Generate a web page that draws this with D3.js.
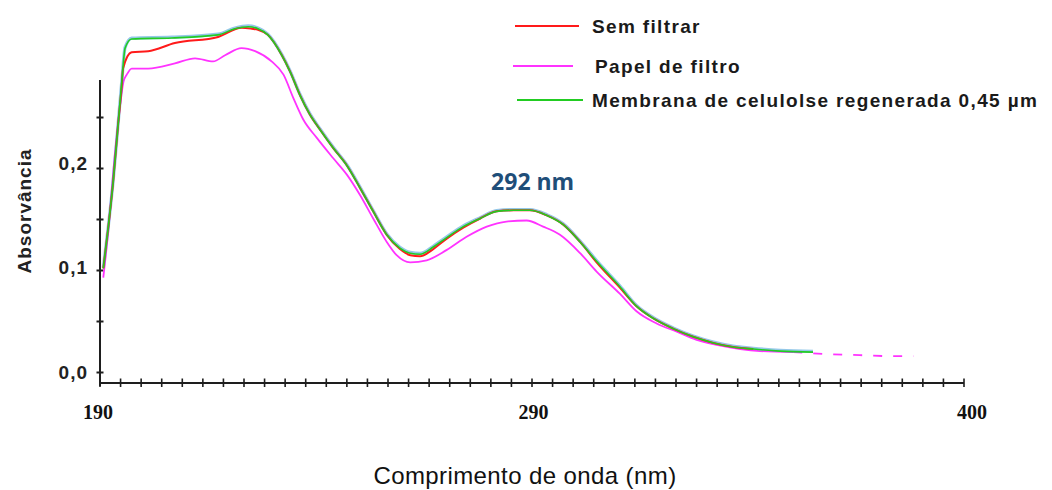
<!DOCTYPE html>
<html>
<head>
<meta charset="utf-8">
<script src="https://cdn.jsdelivr.net/npm/d3@7/dist/d3.min.js"></script>
<style>
  html, body { margin: 0; padding: 0; background: #fff; }
  svg { display: block; }
</style>
</head>
<body>
<svg id="chart" width="1052" height="490"></svg>
<script>
// UV-Vis absorbance spectra (nm vs absorbance)
const semFiltrarNm  = [190.8, 192.0, 193.2, 194.4, 195.3, 195.6, 197.7, 201.7, 208.2, 218.7, 224.4, 226.9, 228.4, 230.8, 234.2, 236.2, 238.6, 241.0, 243.5, 246.7, 250.0, 253.2, 256.4, 259.7, 262.9, 265.4, 267.8, 271.0, 274.2, 278.3, 282.4, 286.4, 290.5, 294.5, 298.6, 302.6, 306.7, 310.7, 316.4, 320.4, 324.5, 329.3, 334.2, 339.1, 343.9, 348.8];
const semFiltrarAbs = [0.102, 0.142, 0.187, 0.243, 0.282, 0.298, 0.314, 0.315, 0.323, 0.329, 0.338, 0.337, 0.336, 0.331, 0.311, 0.295, 0.272, 0.253, 0.238, 0.220, 0.203, 0.181, 0.158, 0.135, 0.121, 0.115, 0.114, 0.121, 0.131, 0.142, 0.151, 0.158, 0.159, 0.159, 0.154, 0.145, 0.128, 0.108, 0.083, 0.065, 0.053, 0.043, 0.035, 0.029, 0.025, 0.023];

const papelNm  = [190.8, 192.0, 193.6, 194.9, 195.7, 196.5, 197.7, 201.7, 208.2, 213.1, 217.5, 220.4, 224.4, 227.7, 231.7, 234.6, 237.0, 239.4, 242.7, 246.7, 250.0, 253.2, 256.4, 259.7, 262.1, 265.4, 269.4, 274.2, 279.1, 284.0, 288.8, 293.7, 297.7, 301.8, 306.7, 310.7, 316.4, 320.4, 325.3, 330.2, 335.0, 339.9, 345.6, 350.4, 358.5, 366.6, 374.7, 382.8, 387.7];
const papelAbs = [0.093, 0.138, 0.213, 0.262, 0.285, 0.292, 0.298, 0.298, 0.303, 0.308, 0.305, 0.311, 0.318, 0.315, 0.305, 0.292, 0.269, 0.248, 0.230, 0.210, 0.194, 0.174, 0.151, 0.128, 0.115, 0.108, 0.110, 0.120, 0.133, 0.143, 0.148, 0.149, 0.143, 0.135, 0.117, 0.099, 0.077, 0.060, 0.048, 0.040, 0.032, 0.027, 0.023, 0.021, 0.020, 0.018, 0.017, 0.016, 0.016];

const membranaNm  = [190.8, 192.0, 193.2, 194.4, 195.3, 196.1, 197.7, 207.4, 218.7, 222.8, 226.0, 228.4, 230.8, 234.2, 236.2, 238.6, 241.0, 243.5, 246.7, 250.0, 253.2, 256.4, 259.7, 262.9, 265.4, 267.8, 271.0, 274.2, 278.3, 282.4, 286.4, 290.5, 294.5, 298.6, 302.6, 306.7, 310.7, 316.4, 320.4, 324.5, 329.3, 334.2, 339.1, 343.9, 348.8, 355.3, 363.3];
const membranaAbs = [0.102, 0.142, 0.187, 0.243, 0.285, 0.318, 0.327, 0.328, 0.331, 0.337, 0.339, 0.337, 0.331, 0.311, 0.295, 0.272, 0.253, 0.238, 0.220, 0.203, 0.181, 0.158, 0.135, 0.122, 0.117, 0.116, 0.123, 0.132, 0.143, 0.151, 0.158, 0.159, 0.159, 0.154, 0.145, 0.128, 0.109, 0.084, 0.065, 0.053, 0.043, 0.035, 0.029, 0.025, 0.023, 0.021, 0.020];

const legendLabels = ["Sem filtrar", "Papel de filtro", "Membrana de celulolse regenerada 0,45 µm"];
const legendColors = ["#ff1a1a", "#ff33ff", "#22cc22"];

const xTickValues  = [190, 290, 400];
const yTickValues  = [0, 0.1, 0.2];
const yTickLabels  = ["0,0", "0,1", "0,2"];
const peakLabel    = "292 nm";
const peakNm       = 292;
const peakAbs      = 0.159;

const svg = d3.select("#chart");

const x = d3.scaleLinear().domain([190, 400]).range([100, 964]);
const y = d3.scaleLinear().domain([0, 0.3]).range([372.5, 66.5]);

const axisColor = "#1e1e1e";

// ---- x axis ----
const xAxisY = 383;
svg.append("line")
  .attr("x1", x(190)).attr("x2", x(400))
  .attr("y1", xAxisY).attr("y2", xAxisY)
  .attr("stroke", axisColor).attr("stroke-width", 2);

svg.append("g").selectAll("line")
  .data(d3.range(190, 401, 5))
  .join("line")
  .attr("x1", d => x(d)).attr("x2", d => x(d))
  .attr("y1", xAxisY - 4.5).attr("y2", xAxisY + 4)
  .attr("stroke", axisColor).attr("stroke-width", 1.6);

const xLabelNudge = { 190: -2, 290: 22, 400: 8 };
svg.append("g").selectAll("text")
  .data(xTickValues)
  .join("text")
  .attr("x", d => x(d) + xLabelNudge[d])
  .attr("y", 419)
  .attr("text-anchor", "middle")
  .attr("font-family", "'Liberation Serif', 'Times New Roman', serif")
  .attr("font-weight", "bold")
  .attr("font-size", 20)
  .attr("fill", "#111")
  .text(d => d);

// ---- y axis ----
svg.append("line")
  .attr("x1", 100).attr("x2", 100)
  .attr("y1", 80).attr("y2", 386)
  .attr("stroke", axisColor).attr("stroke-width", 2);

svg.append("g").selectAll("line")
  .data(d3.range(0, 0.26, 0.05))
  .join("line")
  .attr("x1", 96.5).attr("x2", 103.5)
  .attr("y1", d => y(d)).attr("y2", d => y(d))
  .attr("stroke", axisColor).attr("stroke-width", 2);

const yLabelNudge = [6.5, 3, 1];
svg.append("g").selectAll("text")
  .data(yTickValues)
  .join("text")
  .attr("x", 88)
  .attr("y", (d, i) => y(d) + yLabelNudge[i])
  .attr("text-anchor", "end")
  .attr("font-family", "'Liberation Sans', Arial, sans-serif")
  .attr("font-weight", "bold")
  .attr("font-size", 19)
  .attr("letter-spacing", 1)
  .attr("fill", "#222")
  .text((d, i) => yTickLabels[i]);

svg.append("text")
  .attr("transform", "translate(31,211) rotate(-90)")
  .attr("text-anchor", "middle")
  .attr("font-family", "'Liberation Sans', Arial, sans-serif")
  .attr("font-weight", "bold")
  .attr("font-size", 19)
  .attr("letter-spacing", 1)
  .attr("fill", "#222")
  .text("Absorvância");

svg.append("text")
  .attr("x", 525).attr("y", 484)
  .attr("text-anchor", "middle")
  .attr("font-family", "'Liberation Sans', Arial, sans-serif")
  .attr("font-size", 24)
  .attr("letter-spacing", 0.4)
  .attr("fill", "#111")
  .text("Comprimento de onda (nm)");

// ---- spectra ----
const toPoints = (nm, abs) => nm.map((v, i) => [v, abs[i]]);
const line = d3.line()
  .x(d => x(d[0]))
  .y(d => y(d[1]))
  .curve(d3.curveMonotoneX);

const plot = svg.append("g").attr("fill", "none").attr("stroke-linejoin", "round");

const papelPts = toPoints(papelNm, papelAbs);
plot.append("path")
  .attr("d", line(papelPts.filter(d => d[0] <= 358.5)))
  .attr("stroke", legendColors[1]).attr("stroke-width", 1.8);
plot.append("path")
  .attr("d", line(papelPts.filter(d => d[0] >= 358.5)))
  .attr("stroke", legendColors[1]).attr("stroke-width", 1.8)
  .attr("stroke-dasharray", "9 11");

const membranaPts = toPoints(membranaNm, membranaAbs);
// faint blue trace running beneath the membrane curve
plot.append("path")
  .attr("d", line(membranaPts))
  .attr("stroke", "#3d9ad6").attr("stroke-width", 3.2).attr("stroke-opacity", 0.55)
  .attr("transform", "translate(0,-0.8)");

plot.append("path")
  .attr("d", line(toPoints(semFiltrarNm, semFiltrarAbs)))
  .attr("stroke", legendColors[0]).attr("stroke-width", 2);

plot.append("path")
  .attr("d", line(membranaPts))
  .attr("stroke", legendColors[2]).attr("stroke-width", 1.6);

// ---- peak annotation ----
svg.append("text")
  .attr("x", x(peakNm) + 13)
  .attr("y", y(peakAbs) - 20)
  .attr("text-anchor", "middle")
  .attr("font-family", "'Open Sans', 'Noto Sans', sans-serif")
  .attr("font-weight", "bold")
  .attr("font-size", 23)
  .attr("fill", "#1f4e79")
  .text(peakLabel);

// ---- legend ----
const legendRowY = [26, 66, 100];
const legendTextX = [592, 595, 592];
const legendLineX = [[515, 579], [513, 573], [517, 583]];
const legend = svg.append("g");
legendLabels.forEach((label, i) => {
  legend.append("line")
    .attr("x1", legendLineX[i][0]).attr("x2", legendLineX[i][1])
    .attr("y1", legendRowY[i]).attr("y2", legendRowY[i])
    .attr("stroke", legendColors[i]).attr("stroke-width", 1.8);
  legend.append("text")
    .attr("x", legendTextX[i])
    .attr("y", legendRowY[i] + 6.5)
    .attr("font-family", "'Liberation Sans', Arial, sans-serif")
    .attr("font-weight", "bold")
    .attr("font-size", 19)
    .attr("letter-spacing", 1.35)
    .attr("fill", "#1a1a1a")
    .text(label);
});
</script>
</body>
</html>
